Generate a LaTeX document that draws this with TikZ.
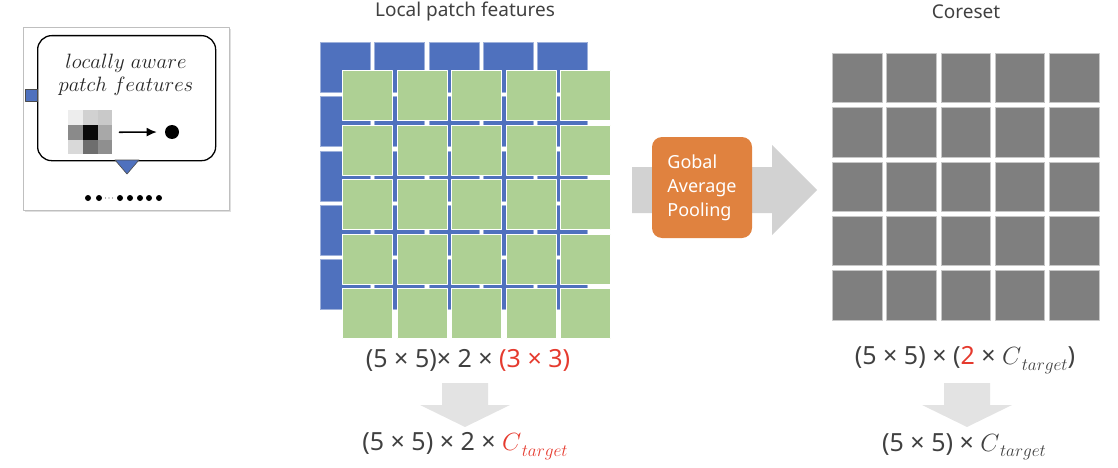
\documentclass[tikz,border=0pt]{standalone}
\usepackage{fontspec}
\setsansfont{Noto Sans}
\usepackage{amsmath}
\usepackage{xcolor}
\usepackage{tikz}
\usetikzlibrary{arrows.meta,positioning,shadows}
\newcommand{\ctarget}{$C$\kern0.5pt\raisebox{-0.22em}{\fontsize{18.5}{20}\selectfont$target$}}
\definecolor{pfBlue}{HTML}{4F71BE}
\definecolor{pfGreen}{HTML}{AED094}
\definecolor{pfGray}{HTML}{7F7F7F}
\definecolor{pfOrange}{HTML}{E0823F}
\definecolor{pfInk}{HTML}{404040}
\definecolor{pfRed}{HTML}{E53A2E}
\definecolor{pfArrow}{HTML}{D2D2D2}
\definecolor{pfPale}{HTML}{E3E3E3}
\tikzset{
  pf diagram/.style={x=1pt, y=-1pt, line cap=round, line join=round},
  pf cell/.style={minimum size=50pt, inner sep=0pt, anchor=north west,
    line width=0.6pt},
  pf blue/.style={pf cell, fill=pfBlue, draw=pfBlue!55!white},
  pf green/.style={pf cell, fill=pfGreen, draw=white},
  pf gray/.style={pf cell, minimum size=49.5pt, fill=pfGray, draw=black!22},
  pf title/.style={font=\sffamily\fontsize{19}{22}\selectfont, text=pfInk},
  pf formula/.style={font=\sffamily\fontsize{25}{28}\selectfont, text=pfInk},
  pf pool/.style={fill=pfOrange, draw=none, rounded corners=10pt,
    minimum width=100pt, minimum height=101pt, align=left, text=white,
    font=\sffamily\fontsize{18}{24}\selectfont},
  pf italic/.style={font=\fontsize{21}{23}\selectfont, text=black!85},
  pf pixel/.style={minimum size=14.7pt, inner sep=0pt, anchor=north west,
    draw=none},
  pf dot/.style={circle, fill=black, inner sep=0pt},
  pf arrow/.style={-{Latex[length=3.6mm,width=3.2mm]}, draw=black, line width=1.6pt}
}
\begin{document}
\begin{tikzpicture}[pf diagram]
\useasboundingbox (0,0) rectangle (1118,468);
% left inset
\node[draw=black!25, fill=white, minimum width=206pt, minimum height=183pt,
  anchor=north west, drop shadow={opacity=0.25, shadow xshift=1.5pt,
  shadow yshift=-1.5pt}] (inset) at (23,27) {};
\node[draw=black, line width=1.3pt, rounded corners=14pt, fill=white,
  minimum width=178pt, minimum height=125pt, anchor=north west] (bubble) at (37,35) {};
\node[fill=pfBlue, draw=black!70, minimum size=12pt, inner sep=0pt] (port) at (31,95.5) {};
\fill[pfBlue, draw=black!70, line width=0.6pt] (115,160) -- (139,160) -- (127,174) -- cycle;
\node[pf italic] (line1) at (126,63) {$locally\ aware$};
\node[pf italic] (line2) at (126,86) {$patch\ features$};
\foreach \r/\c/\g in {1/1/93,1/2/82,1/3/79,2/1/54,2/2/4,2/3/66,3/1/85,3/2/43,3/3/56}
  \node[pf pixel, fill=black!\the\numexpr100-\g\relax] (px\r\c) at ({68+(\c-1)*14.7},{110+(\r-1)*14.7}) {};
\node[pf dot, minimum size=14pt] (pooled) at (172,132) {};
\draw[pf arrow, shorten <=7pt, shorten >=8pt] (px23.east) -- (pooled.west);
\foreach \x [count=\k] in {88,99,120,130,140,149,159}
  \node[pf dot, minimum size=6pt] (seq\k) at (\x,198) {};
\foreach \x [count=\k] in {105.5,109,112.5}
  \node[pf dot, minimum size=1.4pt, fill=black!60] (gap\k) at (\x,198) {};
% local patch features
\node[pf title] (localtitle) at (465,12) {Local patch features};
\foreach \r in {0,...,4}
  \foreach \c in {0,...,4}
    \node[pf blue] (b\r\c) at ({320+\c*54.3},{42+\r*54.3}) {};
\foreach \r in {0,...,4}
  \foreach \c in {0,...,4}
    \node[pf green] (g\r\c) at ({342+\c*54.6},{70+\r*54.6}) {};
% pooling
\fill[pfArrow] (632,167) -- (772,167) -- (772,145) -- (817,190) -- (772,235)
  -- (772,213) -- (632,213) -- cycle;
\node[pf pool] (pool) at (702,187.5) {Gobal\\Average\\Pooling};
% coreset
\node[pf title] (coretitle) at (966,12) {Coreset};
\foreach \r in {0,...,4}
  \foreach \c in {0,...,4}
    \node[pf gray] (c\r\c) at ({832+\c*54.3},{53+\r*54.3}) {};
% sizes
\node[pf formula] (lsize) at (468,360) {(5 × 5)× 2 × \textcolor{pfRed}{(3 × 3)}};
\fill[pfPale] (442,383) -- (488,383) -- (488,405) -- (510,405) -- (465,427)
  -- (420,405) -- (442,405) -- cycle;
\node[pf formula] (lreduced) at (465,446) {(5 × 5) × 2 × \textcolor{pfRed}{\ctarget}};
\node[pf formula] (rsize) at (965,360) {(5 × 5) × (\textcolor{pfRed}{2} × \ctarget)};
\fill[pfPale] (944,383) -- (990,383) -- (990,405) -- (1012,405) -- (967,427)
  -- (922,405) -- (944,405) -- cycle;
\node[pf formula] (rreduced) at (964,447) {(5 × 5) × \ctarget};
\end{tikzpicture}
\end{document}
